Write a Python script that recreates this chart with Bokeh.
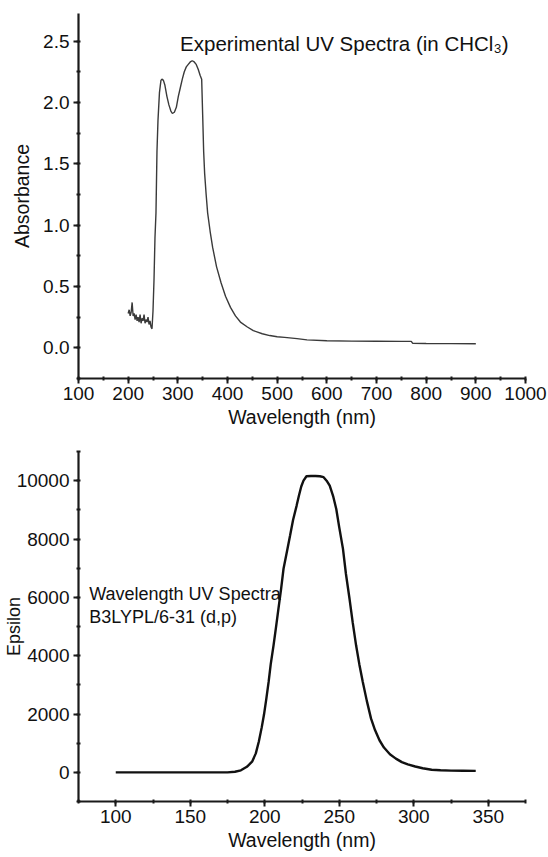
from bokeh.plotting import figure
from bokeh.layouts import column
from bokeh.models import Label, SingleIntervalTicker, Range1d, PrintfTickFormatter
from bokeh.embed import file_html
from bokeh.resources import INLINE

# ---------------- data ----------------
exp_wavelength = [200, 202, 204, 206, 208, 210, 212, 214, 216, 218, 220, 222, 224, 226, 228,
                  230, 232, 234, 236, 238, 240, 242, 244, 246, 248, 250, 252, 254, 256, 258,
                  260, 263, 266, 268, 271, 274, 278, 282, 286, 289, 293, 297, 301, 305, 309,
                  313, 317, 321, 325, 329, 333, 337, 341, 345, 348, 350, 352, 354, 357, 360,
                  365, 370, 378, 387, 396, 406, 416, 426, 440, 452, 470, 485, 500, 515, 540,
                  560, 600, 650, 700, 750, 770, 773, 800, 850, 900]
exp_absorbance = [0.28, 0.31, 0.26, 0.29, 0.37, 0.26, 0.28, 0.23, 0.27, 0.22, 0.25, 0.21, 0.27, 0.20, 0.24,
                  0.22, 0.27, 0.20, 0.23, 0.21, 0.25, 0.19, 0.22, 0.17, 0.155, 0.30, 0.55, 0.90, 1.10, 1.60,
                  1.85, 2.08, 2.18, 2.19, 2.18, 2.14, 2.05, 1.98, 1.93, 1.91, 1.92, 1.96, 2.05, 2.12, 2.19,
                  2.25, 2.29, 2.31, 2.33, 2.34, 2.33, 2.31, 2.27, 2.22, 2.19, 1.90, 1.60, 1.42, 1.25, 1.10,
                  0.95, 0.82, 0.66, 0.53, 0.42, 0.33, 0.26, 0.21, 0.17, 0.14, 0.115, 0.10, 0.09, 0.085, 0.075,
                  0.065, 0.058, 0.055, 0.054, 0.053, 0.053, 0.036, 0.035, 0.034, 0.033]

calc_wavelength = [100, 120, 140, 160, 175, 180, 184, 188, 191.5, 194, 196, 198, 199.5, 201, 202.6,
                   204, 205.9, 207.5, 209.2, 211, 212.6, 215, 217, 219, 221.4, 223, 224.5, 226, 228,
                   231, 234, 237, 239.5, 241.5, 243.6, 246, 248, 250, 252.5, 254.5, 256.9, 259, 261.3,
                   263.5, 265.8, 268.5, 271.3, 274, 277, 280, 284, 288, 292, 296, 301, 306, 312, 318,
                   325, 333, 341.6]
calc_epsilon = [0, 0, 0, 0, 0, 20, 70, 190, 365, 650, 1050, 1550, 1980, 2500, 3100,
                3700, 4355, 4950, 5610, 6300, 6980, 7600, 8120, 8650, 9145, 9500, 9800, 10000, 10150,
                10160, 10160, 10150, 10120, 10000, 9830, 9450, 9030, 8400, 7660, 6800, 5950, 5150, 4355,
                3700, 3100, 2450, 1850, 1450, 1100, 850, 620, 470, 350, 270, 200, 140, 90, 70,
                60, 55, 50]

top_title = "Experimental UV Spectra (in CHCl\u2083)"
bottom_note_1 = "Wavelength UV Spectra"
bottom_note_2 = "B3LYPL/6-31 (d,p)"

FONT = "Liberation Sans"
INK = "#1a1a1a"
TICK_FS = "19px"
LABEL_FS = "19.5px"


def style(p, xint, yint):
    p.xaxis.ticker = SingleIntervalTicker(interval=xint, num_minor_ticks=2)
    p.yaxis.ticker = SingleIntervalTicker(interval=yint, num_minor_ticks=2)
    for ax in (p.xaxis[0], p.yaxis[0]):
        ax.axis_line_width = 2.2
        ax.axis_line_color = INK
        ax.major_tick_line_width = 2
        ax.major_tick_line_color = INK
        ax.major_tick_out = 5
        ax.major_tick_in = 0
        ax.minor_tick_line_width = 2
        ax.minor_tick_line_color = INK
        ax.minor_tick_out = 2
        ax.minor_tick_in = 2
        ax.major_label_text_font = FONT
        ax.major_label_text_font_size = TICK_FS
        ax.major_label_text_color = "#111111"
        ax.major_label_standoff = 3
        ax.axis_label_text_font = FONT
        ax.axis_label_text_font_size = LABEL_FS
        ax.axis_label_text_font_style = "normal"
        ax.axis_label_text_color = "#111111"
        ax.axis_label_standoff = 3
    p.yaxis.major_label_standoff = 4
    p.xgrid.visible = False
    p.ygrid.visible = False
    p.outline_line_color = None
    p.background_fill_color = "white"
    p.border_fill_color = "white"


# ---------------- top panel ----------------
p1 = figure(width=548, height=437, output_backend="svg", toolbar_location=None,
            x_range=Range1d(100, 1000), y_range=Range1d(-0.25, 2.725),
            min_border_left=72, min_border_right=23, min_border_top=13, min_border_bottom=59)
style(p1, 100, 0.5)
p1.yaxis.formatter = PrintfTickFormatter(format="%.1f")
p1.xaxis.axis_label = "Wavelength (nm)"
p1.yaxis.axis_label = "Absorbance"
p1.yaxis.axis_label_standoff = 7
p1.line(exp_wavelength, exp_absorbance, line_color="#3a3a3a", line_width=1.4)
p1.add_layout(Label(x=304.6, y=2.478, text=top_title, text_font=FONT, text_font_size="20.5px",
                    text_color="#111111", text_baseline="middle"))

# ---------------- bottom panel ----------------
p2 = figure(width=548, height=420, output_backend="svg", toolbar_location=None,
            x_range=Range1d(75, 375), y_range=Range1d(-1000, 11000),
            min_border_left=73, min_border_right=22, min_border_top=14, min_border_bottom=56)
style(p2, 50, 2000)
p2.xaxis.axis_label = "Wavelength (nm)"
p2.yaxis.axis_label = "Epsilon"
p2.yaxis.axis_label_text_font_size = "18px"
p2.yaxis.axis_label_standoff = -10
p2.line(calc_wavelength, calc_epsilon, line_color="#111111", line_width=2.4)
p2.add_layout(Label(x=82.2, y=6131, text=bottom_note_1, text_font=FONT, text_font_size="18px",
                    text_color="#111111", text_baseline="middle"))
p2.add_layout(Label(x=82.2, y=5333, text=bottom_note_2, text_font=FONT, text_font_size="18px",
                    text_color="#111111", text_baseline="middle"))

layout = column(p1, p2)
open("out.html", "w").write(file_html(layout, INLINE))
